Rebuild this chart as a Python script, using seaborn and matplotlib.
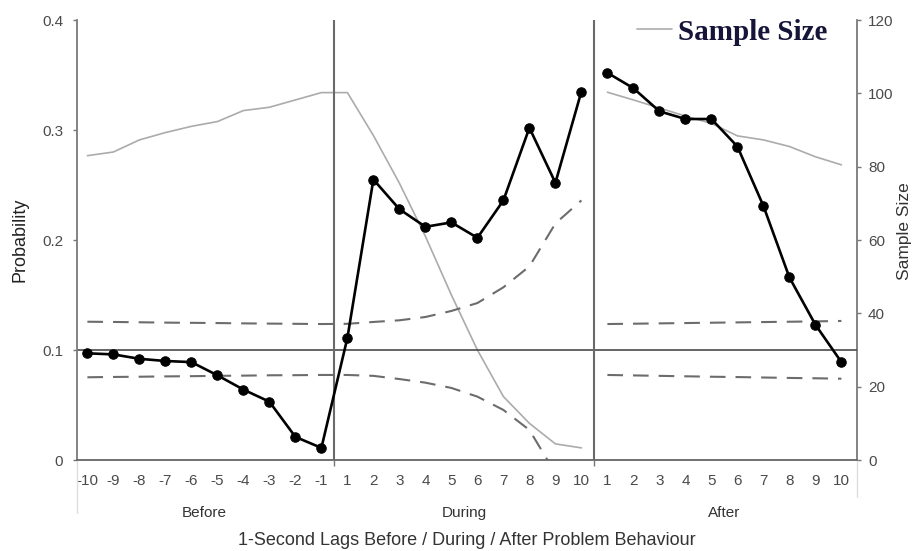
import numpy as np
import pandas as pd
import matplotlib
matplotlib.use("Agg")
import matplotlib.pyplot as plt
from matplotlib.font_manager import FontProperties
import seaborn as sns

# Lag labels for the three phases
phases = ["Before", "During", "After"]
lags_before = ["-10", "-9", "-8", "-7", "-6", "-5", "-4", "-3", "-2", "-1"]
lags_during = ["1", "2", "3", "4", "5", "6", "7", "8", "9", "10"]
lags_after = ["1", "2", "3", "4", "5", "6", "7", "8", "9", "10"]

# Observed probability of the target behaviour at each lag
prob_before = [0.097, 0.096, 0.092, 0.090, 0.089, 0.077, 0.064, 0.053, 0.021, 0.011]
prob_during = [0.111, 0.255, 0.228, 0.212, 0.216, 0.202, 0.236, 0.302, 0.252, 0.335]
prob_after = [0.352, 0.338, 0.317, 0.310, 0.310, 0.285, 0.231, 0.166, 0.123, 0.089]

# Number of sessions contributing to each lag
n_before = [83, 84, 87.3, 89.3, 91, 92.3, 95.3, 96.2, 98.2, 100.2]
n_during = [100.2, 88.5, 75.5, 61, 45, 30, 17.3, 10, 4.4, 3.3]
n_after = [100.3, 98.2, 96, 93.8, 91.8, 88.4, 87.3, 85.5, 82.7, 80.5]

# Upper / lower bounds of the chance interval
upper_before = [0.1257, 0.1255, 0.1252, 0.1249, 0.1247, 0.1245, 0.1242, 0.124, 0.1238, 0.1236]
lower_before = [0.0752, 0.0755, 0.0757, 0.0760, 0.0762, 0.0765, 0.0767, 0.0770, 0.0771, 0.0773]
upper_during = [0.1238, 0.1255, 0.127, 0.130, 0.1355, 0.1427, 0.157, 0.176, 0.215, 0.236]
lower_during = [0.0773, 0.0765, 0.0736, 0.0703, 0.0655, 0.0576, 0.0455, 0.0273, -0.012, -0.06]
upper_after = [0.1236, 0.1239, 0.1242, 0.1245, 0.1248, 0.1251, 0.1254, 0.1257, 0.1260, 0.1264]
lower_after = [0.0773, 0.0769, 0.0765, 0.0761, 0.0757, 0.0754, 0.0750, 0.0746, 0.0743, 0.0739]

chance_level = 0.1

lag_labels = lags_before + lags_during + lags_after
df = pd.DataFrame({
    "pos": np.arange(len(lag_labels)),
    "lag": lag_labels,
    "phase": np.repeat(phases, 10),
    "probability": prob_before + prob_during + prob_after,
    "n": n_before + n_during + n_after,
    "upper": upper_before + upper_during + upper_after,
    "lower": lower_before + lower_during + lower_after,
})
# Before and During are drawn as one continuous run, After as a separate one
df["run"] = np.where(df["phase"] == "After", "post", "pre")

sns.set_style("ticks")
plt.rcParams["font.family"] = ["Liberation Sans", "DejaVu Sans"]

fig = plt.figure(figsize=(9.16, 5.51), dpi=100)
W, H = 916, 551
ax = fig.add_axes([77 / W, 1 - 460 / H, 780 / W, 440 / H])
ax2 = ax.twinx()

# Sample size on the secondary axis (kept behind the probability series)
sns.lineplot(data=df, x="pos", y="n", units="run", estimator=None,
             color="#ababab", lw=1.2, ax=ax2, legend=False)

# Chance interval bounds
dash = (0, (7.5, 4.8))
for col in ["upper", "lower"]:
    sns.lineplot(data=df, x="pos", y=col, units="run", estimator=None,
                 color="#6c6c6c", lw=1.5, linestyle=dash, ax=ax, legend=False)

# Chance level and phase dividers
ax.axhline(chance_level, color="#4a4a4a", lw=1.2, zorder=1)
for b in [9.5, 19.5]:
    ax.axvline(b, color="#6a6a6a", lw=1.5, zorder=1)

# Observed probabilities
sns.lineplot(data=df, x="pos", y="probability", units="run", estimator=None,
             color="black", lw=1.9, marker="o", markersize=6.8,
             markeredgecolor="black", ax=ax, legend=False, zorder=5)

ax.set_zorder(ax2.get_zorder() + 1)
ax.patch.set_visible(False)

# Axes limits and ticks
ax.set_xlim(-0.4, 29.6)
ax.set_ylim(0, 0.4)
ax2.set_ylim(0, 120)
ax.set_yticks([0, 0.1, 0.2, 0.3, 0.4])
ax.set_yticklabels(["0", "0.1", "0.2", "0.3", "0.4"])
ax2.set_yticks(np.arange(0, 121, 20))
ax.set_xticks(df["pos"])
ax.set_xticklabels(df["lag"])
ax.set_xticks([9.5, 19.5], minor=True)

tick_color = "#4a4a4a"
ax.tick_params(axis="x", which="major", length=0, pad=10, labelsize=11, labelcolor=tick_color)
ax.tick_params(axis="x", which="minor", length=4, width=1, color="#777777")
ax.tick_params(axis="y", length=3, width=1, color="#777777", pad=7, labelsize=11, labelcolor=tick_color)
ax2.tick_params(axis="y", length=3, width=1, color="#777777", pad=5, labelsize=11, labelcolor=tick_color)

for s in ["top", "right"]:
    ax.spines[s].set_visible(False)
for s in ["top", "left", "bottom"]:
    ax2.spines[s].set_visible(False)
for sp, c in [(ax.spines["left"], "#7a7a7a"), (ax.spines["bottom"], "#666666"), (ax2.spines["right"], "#7a7a7a")]:
    sp.set_color(c)
    sp.set_linewidth(1.3)

# Axis titles
ax.set_xlabel("1-Second Lags Before / During / After Problem Behaviour", fontsize=13, color="#333333")
ax.xaxis.set_label_coords(0.5, -0.182)
ax.xaxis.label.set_verticalalignment("center")
ax.set_ylabel("Probability", fontsize=13, color="#222222")
ax.yaxis.set_label_coords(-0.073, 0.5)
ax.yaxis.label.set_verticalalignment("center")
ax2.set_ylabel("Sample Size", fontsize=12.5, color="#333333")
ax2.yaxis.set_label_coords(1.0615, 0.52)
ax2.yaxis.label.set_verticalalignment("center")

# Phase labels under the lag ticks
xt = ax.get_xaxis_transform()
for phase, grp in df.groupby("phase", sort=False):
    ax.text(grp["pos"].mean(), -0.1205, phase, transform=xt, ha="center", va="center",
            fontsize=11, color="#333333")
for x0, y1 in [(-0.4, -0.12), (29.6, -0.085)]:
    ax.plot([x0, x0], [0, y1], transform=xt, clip_on=False, color="#dedede", lw=1)

# Legend for the sample-size line (one entry, using the first drawn run)
size_line = ax2.get_lines()[0]
ax2.legend([size_line], ["Sample Size"], loc="center right", bbox_to_anchor=(827 / W, 1 - 32 / H),
           bbox_transform=fig.transFigure, frameon=False, borderpad=0, borderaxespad=0,
           handlelength=1.2, handletextpad=0.2, labelcolor="#15153a",
           prop=FontProperties(family="Liberation Serif", weight="bold", size=21))

fig.savefig("out.png", dpi=100)
